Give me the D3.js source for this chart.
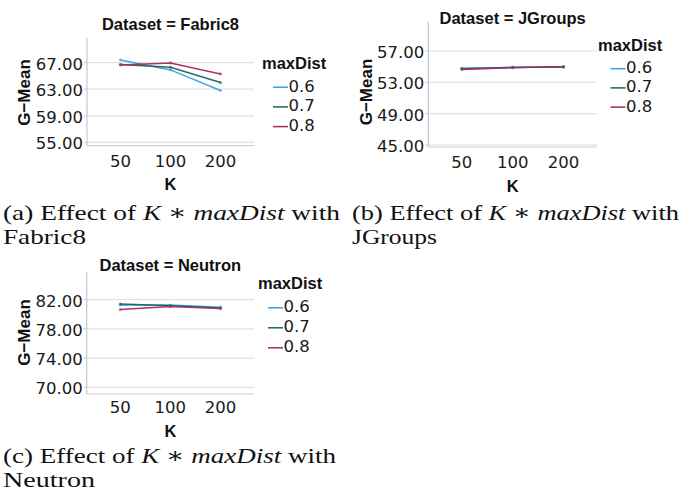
<!DOCTYPE html>
<html><head><meta charset="utf-8">
<script src="https://cdn.jsdelivr.net/npm/d3@7"></script>
<style>body{margin:0;background:#fff}</style>
</head><body><svg id="c" width="680" height="493"></svg>
<script>
// ---- data ----
const kValues = ["50", "100", "200"];
const maxDistLevels = ["0.6", "0.7", "0.8"];
const fabric8_06 = [67.4, 65.9, 62.8];
const fabric8_07 = [66.7, 66.3, 64.0];
const fabric8_08 = [66.65, 66.95, 65.3];
const jgroups_06 = [54.8, 54.9, 55.0];
const jgroups_07 = [54.75, 54.9, 55.0];
const jgroups_08 = [54.65, 54.88, 54.95];
const neutron_06 = [81.27, 81.25, 80.95];
const neutron_07 = [81.38, 81.15, 80.85];
const neutron_08 = [80.63, 81.05, 80.76];
const fabric8Ticks = [55, 59, 63, 67];
const jgroupsTicks = [45, 49, 53, 57];
const neutronTicks = [70, 74, 78, 82];
const datasetNames = ["Fabric8", "JGroups", "Neutron"];
const captionLetters = ["(a)", "(b)", "(c)"];
const seriesColors = ["#3a9fe6", "#1e6459", "#a42a61"];

const svg = d3.select("#c");
const boldFont = "'Liberation Sans', Arial, sans-serif";
const tickFont = "'DejaVu Sans', sans-serif";
const serifFont = "'Liberation Serif', 'DejaVu Serif', serif";

const panels = [
  {name: datasetNames[0], series: [fabric8_06, fabric8_07, fabric8_08], ticks: fabric8Ticks,
   left: 87, right: 254, top: 38, bottom: 145.7, domain: [54.5, 70.7], pad: 0.67,
   titleY: 30, yLabX: 29.5, yLabY: 92.5, xTickY: 167, kY: 190,
   legX: 262, legY: 69, legGap: 19.7, legLineX: 273,
   cap: {x: 3, y: 220, w: 337, l2: "Fabric8", w2: 83}},
  {name: datasetNames[1], series: [jgroups_06, jgroups_07, jgroups_08], ticks: jgroupsTicks,
   left: 428.3, right: 597, top: 22, bottom: 147, domain: [44.75, 60.7], pad: 0.66,
   titleY: 24, yLabX: 371.5, yLabY: 92, xTickY: 168, kY: 192,
   legX: 598, legY: 51, legGap: 19.2, legLineX: 610.5,
   cap: {x: 352, y: 220, w: 327, l2: "JGroups", w2: 85}},
  {name: datasetNames[2], series: [neutron_06, neutron_07, neutron_08], ticks: neutronTicks,
   left: 86.7, right: 254, top: 271.7, bottom: 394, domain: [69.1, 85.8], pad: 0.67,
   titleY: 270.7, yLabX: 29.5, yLabY: 332.5, xTickY: 413, kY: 437,
   legX: 258, legY: 289.3, legGap: 20, legLineX: 268,
   cap: {x: 3, y: 463, w: 333, l2: "Neutron", w2: 92}}
];

panels.forEach((p, pi) => {
  const g = svg.append("g");
  const x = d3.scalePoint().domain(kValues).range([p.left, p.right]).padding(p.pad);
  const y = d3.scaleLinear().domain(p.domain).range([p.bottom, p.top]);

  // gridlines
  g.selectAll(".grid").data(p.ticks).enter().append("line")
    .attr("x1", p.left).attr("x2", p.right)
    .attr("y1", d => y(d)).attr("y2", d => y(d))
    .attr("stroke", "#e2e2e2").attr("stroke-width", 1.2);
  // tick marks
  g.selectAll(".tk").data(p.ticks).enter().append("line")
    .attr("x1", p.left - 3).attr("x2", p.left)
    .attr("y1", d => y(d)).attr("y2", d => y(d))
    .attr("stroke", "#c4c4c4").attr("stroke-width", 1);
  // axes
  g.append("line").attr("x1", p.left).attr("x2", p.left).attr("y1", p.top).attr("y2", p.bottom)
    .attr("stroke", "#c8c8c8").attr("stroke-width", 1.2);
  g.append("line").attr("x1", p.left).attr("x2", p.right).attr("y1", p.bottom).attr("y2", p.bottom)
    .attr("stroke", "#d0d0d0").attr("stroke-width", 1.2);

  // y tick labels
  g.selectAll(".yl").data(p.ticks).enter().append("text")
    .attr("x", p.left - 4).attr("y", d => y(d) + 7)
    .attr("text-anchor", "end").attr("font-family", tickFont).attr("font-size", 16.5)
    .attr("fill", "#1a1a1a").text(d => d.toFixed(2));
  // x tick labels
  g.selectAll(".xl").data(kValues).enter().append("text")
    .attr("x", d => x(d)).attr("y", p.xTickY)
    .attr("text-anchor", "middle").attr("font-family", tickFont).attr("font-size", 16.5)
    .attr("fill", "#1a1a1a").text(d => d);

  // title
  g.append("text").attr("x", (p.left + p.right) / 2).attr("y", p.titleY)
    .attr("text-anchor", "middle").attr("font-family", boldFont).attr("font-weight", "bold")
    .attr("font-size", 16.5).attr("fill", "#111").text("Dataset = " + p.name);
  // axis titles
  g.append("text").attr("x", (p.left + p.right) / 2).attr("y", p.kY)
    .attr("text-anchor", "middle").attr("font-family", boldFont).attr("font-weight", "bold")
    .attr("font-size", 16.5).attr("fill", "#111").text("K");
  g.append("text").attr("transform", `translate(${p.yLabX},${p.yLabY}) rotate(-90)`)
    .attr("text-anchor", "middle").attr("font-family", boldFont).attr("font-weight", "bold")
    .attr("font-size", 17).attr("fill", "#111").text("G\u2212Mean");

  // lines
  const line = d3.line().x((d, i) => x(kValues[i])).y(d => y(d));
  p.series.forEach((s, si) => {
    g.append("path").datum(s).attr("d", line).attr("fill", "none")
      .attr("stroke", seriesColors[si]).attr("stroke-width", 1.5).attr("stroke-opacity", 0.95);
    g.selectAll(".pt" + si).data(s).enter().append("circle")
      .attr("cx", (d, i) => x(kValues[i])).attr("cy", d => y(d)).attr("r", 1.6)
      .attr("fill", seriesColors[si]).attr("fill-opacity", 0.6);
  });

  // legend
  g.append("text").attr("x", p.legX).attr("y", p.legY)
    .attr("font-family", boldFont).attr("font-weight", "bold").attr("font-size", 16.5)
    .attr("fill", "#111").text("maxDist");
  maxDistLevels.forEach((lv, li) => {
    const by = p.legY + (li + 1) * p.legGap + 3;
    g.append("line").attr("x1", p.legLineX).attr("x2", p.legLineX + 15)
      .attr("y1", by - 4.5).attr("y2", by - 4.5)
      .attr("stroke", seriesColors[li]).attr("stroke-width", 1.5);
    g.append("text").attr("x", p.legLineX + 15.5).attr("y", by)
      .attr("font-family", tickFont).attr("font-size", 16.5).attr("fill", "#1a1a1a").text(lv);
  });

  // caption
  const c1 = svg.append("text").attr("x", p.cap.x).attr("y", p.cap.y)
    .attr("font-family", serifFont).attr("font-size", 22).attr("fill", "#111")
    .attr("textLength", p.cap.w).attr("lengthAdjust", "spacingAndGlyphs");
  c1.append("tspan").text(captionLetters[pi] + " Effect of ");
  c1.append("tspan").attr("font-style", "italic").text("K");
  c1.append("tspan").text(" \u2217 ");
  c1.append("tspan").attr("font-style", "italic").text("maxDist");
  c1.append("tspan").text(" with");
  svg.append("text").attr("x", p.cap.x).attr("y", p.cap.y + 23.5)
    .attr("font-family", serifFont).attr("font-size", 22).attr("fill", "#111")
    .attr("textLength", p.cap.w2).attr("lengthAdjust", "spacingAndGlyphs").text(p.cap.l2);
});
</script>
</body></html>
